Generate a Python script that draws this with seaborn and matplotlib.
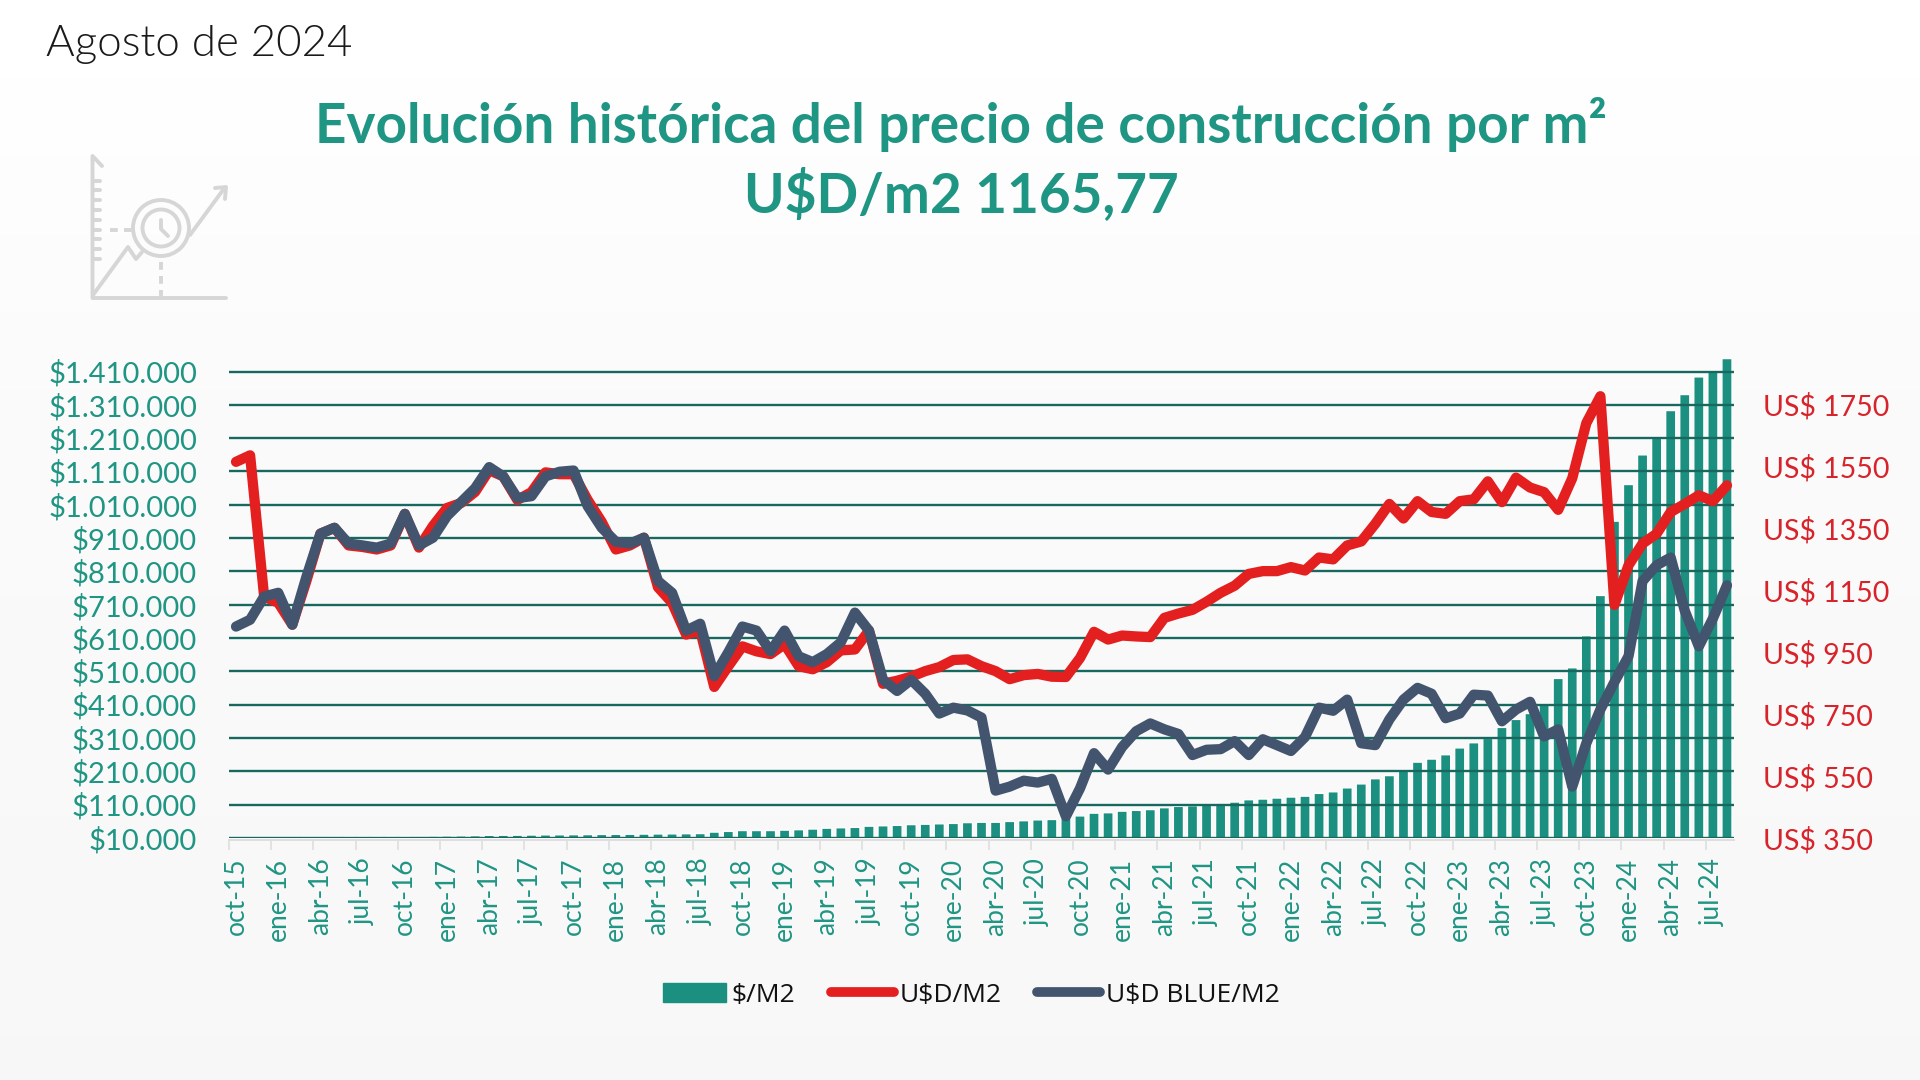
import numpy as np
import pandas as pd
import matplotlib
matplotlib.use('Agg')
import matplotlib.pyplot as plt
from matplotlib.lines import Line2D
from matplotlib.patches import Patch, Circle
import seaborn as sns

# month labels, every 3rd one is shown on the axis
years = ['15', '16', '17', '18', '19', '20', '21', '22', '23', '24']
month_names = ['ene', 'feb', 'mar', 'abr', 'may', 'jun', 'jul', 'ago', 'sep', 'oct', 'nov', 'dic']
months = [m + '-' + y for y in years for m in month_names][9:116]

# $/M2 (bars)
pesos_m2 = [11000, 11200, 11500, 11800, 12500, 13000, 13500, 13800, 14000, 14300,
            14500, 14800, 15000, 15300, 15600, 16000, 16300, 17000, 18000, 18300,
            18500, 19000, 19500, 19700, 20000, 20300, 20800, 21000, 21300, 21800,
            22200, 22500, 23000, 23500, 27800, 30000, 32500, 32500, 32500, 33700,
            35000, 37000, 39600, 40800, 42000, 45600, 46800, 48000, 50300, 51500,
            52700, 53900, 56300, 57400, 57400, 59800, 62000, 64500, 65700, 69300,
            76400, 84700, 86000, 90700, 93000, 95400, 101000, 105000, 107000, 109600,
            114400, 118000, 125000, 127000, 130000, 133000, 135700, 144000, 148800, 160600,
            172500, 188000, 197400, 214000, 237800, 247000, 260000, 280500, 296000, 309000,
            342000, 366000, 383700, 411000, 489000, 521000, 617000, 738000, 961000, 1071000,
            1160000, 1212000, 1293000, 1341000, 1394000, 1412000, 1449000]

# U$D/M2 (red line)
usd_m2 = [1565, 1586, 1129, 1110, 1039, 1180, 1333, 1352, 1295, 1290,
          1282, 1295, 1397, 1288, 1358, 1416, 1432, 1468, 1538, 1518,
          1442, 1467, 1531, 1525, 1525, 1442, 1371, 1282, 1295, 1320,
          1160, 1110, 1007, 1020, 838, 905, 969, 953, 944, 976,
          905, 895, 918, 956, 959, 1020, 848, 858, 871, 889,
          902, 925, 927, 905, 889, 863, 876, 880, 871, 870,
          931, 1016, 991, 1004, 1001, 999, 1061, 1075, 1087, 1113,
          1142, 1165, 1203, 1212, 1212, 1225, 1214, 1256, 1250, 1295,
          1308, 1365, 1429, 1382, 1438, 1403, 1397, 1438, 1444, 1502,
          1435, 1514, 1482, 1467, 1410, 1512, 1690, 1777, 1103, 1231,
          1301, 1333, 1403, 1429, 1457, 1438, 1489]

# U$D BLUE/M2 (dark line)
blue_m2 = [1033, 1055, 1130, 1142, 1039, 1193, 1333, 1352, 1301, 1295,
           1288, 1301, 1397, 1295, 1320, 1390, 1435, 1480, 1548, 1518,
           1448, 1454, 1518, 1533, 1537, 1422, 1352, 1307, 1301, 1320,
           1180, 1142, 1020, 1042, 873, 950, 1033, 1020, 953, 1020,
           937, 918, 944, 982, 1078, 1020, 861, 825, 861, 816,
           752, 771, 762, 739, 503, 516, 535, 529, 541, 420,
           510, 624, 571, 644, 695, 720, 701, 686, 618, 635,
           637, 663, 618, 669, 650, 631, 676, 771, 761, 797,
           656, 650, 733, 797, 835, 816, 737, 752, 813, 810,
           727, 765, 790, 678, 701, 516, 656, 765, 854, 937,
           1180, 1231, 1256, 1084, 969, 1059, 1166]

left_ticks = list(range(10000, 1410001, 100000))
right_ticks = list(range(350, 1751, 200))

TEAL = '#1c9080'
TEAL_TEXT = '#1f9583'
GRID = '#17695f'
RED = '#e31f1f'
RED_TEXT = '#d8232a'
BLUE = '#43556e'
ICON = '#d6d6d6'

df = pd.DataFrame({'mes': months, 'pesos': pesos_m2, 'usd': usd_m2, 'blue': blue_m2})
df['pos'] = np.arange(len(df))

sns.set_theme(style='white')
plt.rcParams['font.family'] = ['Lato', 'DejaVu Sans']

W, H = 1920, 1080
fig = plt.figure(figsize=(W / 100, H / 100), dpi=100)

# background gradient and the small icon, both in pixel coordinates
bg = fig.add_axes([0, 0, 1, 1])
shade = np.concatenate([np.linspace(1.0, 0.98, 400), np.linspace(0.98, 0.968, 680)]).reshape(-1, 1)
bg.imshow(shade, cmap='gray', vmin=0, vmax=1, aspect='auto', extent=[0, W, H, 0])
bg.set_xlim(0, W)
bg.set_ylim(H, 0)
bg.axis('off')


def icon_line(xs, ys, **kw):
    bg.plot(xs, ys, color=ICON, lw=2.8, solid_capstyle='round', solid_joinstyle='round', **kw)


icon_line([102, 92.5, 92.5, 226], [166, 156, 298, 298])
for ty in [181, 190, 200, 210, 220, 230, 239, 249, 259]:
    icon_line([92.5, 100], [ty, ty])
icon_line([93, 128, 136, 142], [295, 247, 259, 252])
icon_line([190, 223], [235, 190])
icon_line([215, 226, 225], [188, 187, 199])
icon_line([161, 161, 168], [220, 229, 236])
bg.plot([110, 132], [230, 230], color=ICON, lw=2.8, ls=(0, (2, 1.6)))
bg.plot([161, 161], [262, 296], color=ICON, lw=2.8, ls=(0, (2, 1.6)))
bg.add_patch(Circle((161, 228), 28, fill=False, ec=ICON, lw=2.8))
bg.add_patch(Circle((161, 228), 18.5, fill=False, ec=ICON, lw=2.8))

# main axes, placed so the gridlines land where they do in the reference
ax_left, ax_right, ax_bottom, ax_top = 229, 1734, 838, 352
ax = fig.add_axes([ax_left / W, 1 - ax_bottom / H, (ax_right - ax_left) / W, (ax_bottom - ax_top) / H])
ax.patch.set_alpha(0)

sns.barplot(data=df, x='pos', y='pesos', color=TEAL, saturation=1, width=0.72, ax=ax)
# the first bars are under 2 px tall, pixel snapping would wipe them out
for bar in ax.patches:
    bar.set_snap(False)
# spine move resets the ticks, so it has to come before the tick setup
ax.spines['bottom'].set_position(('outward', 1.2))
ax.set_xlim(-0.5, len(df) - 0.5)
ax.set_ylim(10000, 1468600)
ax.set_xlabel('')
ax.set_ylabel('')
ax.set_yticks(left_ticks)
ax.set_yticklabels(['$' + format(v, ',').replace(',', '.') for v in left_ticks],
                   color=TEAL_TEXT, fontsize=21)
ax.tick_params(axis='y', length=0, pad=23)
ax.set_xticks(df['pos'][::3])
ax.set_xticklabels(df['mes'][::3], rotation=90, color=TEAL_TEXT, fontsize=19)
ax.set_xticks(df['pos'][::3] - 0.5, minor=True)
ax.tick_params(axis='x', which='major', length=0, pad=13)
ax.tick_params(axis='x', which='minor', length=7, width=1.2, color='#dedede', bottom=True)
ax.grid(axis='y', color=GRID, lw=1.7)
ax.grid(axis='x', visible=False)
ax.set_axisbelow(False)
for side in ['top', 'left', 'right']:
    ax.spines[side].set_visible(False)
ax.spines['bottom'].set_color('#dedede')
ax.spines['bottom'].set_linewidth(1.4)

# dollar lines on the second axis
ax2 = ax.twinx()
ax2.patch.set_alpha(0)
sns.lineplot(data=df, x='pos', y='usd', color=RED, lw=7.4, sort=False, errorbar=None,
             solid_capstyle='round', solid_joinstyle='round', ax=ax2)
sns.lineplot(data=df, x='pos', y='blue', color=BLUE, lw=7.4, sort=False, errorbar=None,
             solid_capstyle='round', solid_joinstyle='round', ax=ax2)
ax2.set_ylim(350, 1919.8)
ax2.set_xlabel('')
ax2.set_ylabel('')
ax2.set_yticks(right_ticks)
ax2.set_yticklabels(['US$ %d' % v for v in right_ticks], color=RED_TEXT, fontsize=20.5)
ax2.tick_params(axis='y', length=0, pad=21)
ax2.grid(False)
for side in ['top', 'left', 'right', 'bottom']:
    ax2.spines[side].set_visible(False)

# titles
fig.text(46 / W, 1 - 45 / H, 'Agosto de 2024', fontsize=31.6, fontweight=300,
         color='#1a1a1a', ha='left', va='center')
fig.text(961 / W, 1 - 124 / H, 'Evolución histórica del precio de construcción por m²',
         fontsize=39.5, fontweight='bold', color=TEAL_TEXT, ha='center', va='center')
fig.text(961 / W, 1 - 194 / H, 'U$D/m2 1165,77', fontsize=39.5, fontweight='bold',
         color=TEAL_TEXT, ha='center', va='center')

handles = [Patch(color=TEAL, label='$/M2'),
           Line2D([0], [0], color=RED, lw=7, solid_capstyle='round', label='U$D/M2'),
           Line2D([0], [0], color=BLUE, lw=7, solid_capstyle='round', label='U$D BLUE/M2')]
leg = fig.legend(handles=handles, loc='center', bbox_to_anchor=(971 / W, 1 - 995 / H), ncol=3,
                 frameon=False, handlelength=2.4, handletextpad=0.2, columnspacing=1.35,
                 prop={'family': 'Open Sans', 'size': 19})
for t in leg.get_texts():
    t.set_color('#111111')

fig.savefig('out.png', dpi=100)
